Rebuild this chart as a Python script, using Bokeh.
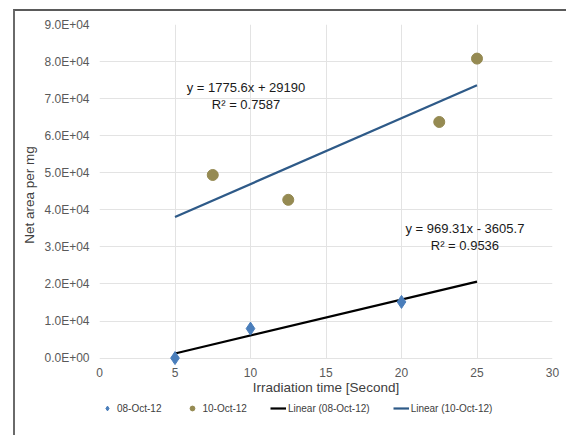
from bokeh.plotting import figure
from bokeh.layouts import column
from bokeh.models import (Range1d, FixedTicker, CustomJSTickFormatter, Legend, LegendItem,
                          Label, BoxAnnotation)
from bokeh.embed import file_html
from bokeh.resources import INLINE

# ---- data ----
x_oct08 = [5, 10, 20]
y_oct08 = [0, 7950, 15160]
x_oct10 = [7.5, 12.5, 22.5, 25]
y_oct10 = [49400, 42700, 63700, 80800]

# trendline coefficients (as shown on chart)
slope_oct08, icpt_oct08, r2_oct08 = 969.31, -3605.7, 0.9536
slope_oct10, icpt_oct10, r2_oct10 = 1775.6, 29190, 0.7587
trend_x = [5, 25]

x_ticks = [0, 5, 10, 15, 20, 25, 30]
y_ticks = [0, 10000, 20000, 30000, 40000, 50000, 60000, 70000, 80000, 90000]

FONT = "Liberation Sans"
C08 = "#4A7EBB"
C10 = "#958A52"
CL10 = "#2E5A88"

# y range extended slightly below 0 so the marker at 0 is not cut
p = figure(width=551, height=386, output_backend="svg", toolbar_location=None,
           x_range=Range1d(0, 30), y_range=Range1d(-2000, 90000),
           min_border_left=84, min_border_right=14, min_border_top=13, min_border_bottom=20)

p.outline_line_color = None
p.background_fill_color = "white"
p.border_fill_color = "white"

for ax in (p.xaxis[0], p.yaxis[0]):
    ax.axis_line_color = None
    ax.major_tick_line_color = None
    ax.minor_tick_line_color = None
    ax.major_tick_out = 0
    ax.major_tick_in = 0
    ax.major_label_text_font = FONT
    ax.major_label_text_font_size = "12px"
    ax.major_label_text_color = "#595959"
    ax.axis_label_text_font = FONT
    ax.axis_label_text_font_size = "13.5px"
    ax.axis_label_text_font_style = "normal"
    ax.axis_label_text_color = "#404040"

p.xaxis.ticker = FixedTicker(ticks=x_ticks)
p.yaxis.ticker = FixedTicker(ticks=y_ticks)
p.yaxis.formatter = CustomJSTickFormatter(code="""
const s = tick.toExponential(1);
const parts = s.split('e');
const sign = parts[1][0];
const d = parts[1].slice(1).padStart(2, '0');
return parts[0] + 'E' + sign + d;
""")
p.xaxis.axis_label = "Irradiation time [Second]"
p.yaxis.axis_label = "Net area per mg"
p.xaxis.major_label_standoff = 2
p.yaxis.major_label_standoff = 10
p.xaxis.axis_label_standoff = 0
p.yaxis.axis_label_standoff = 4

p.xgrid.grid_line_color = "#e3e3e3"
p.ygrid.grid_line_color = "#e3e3e3"

# hide the grid below the zero line
p.add_layout(BoxAnnotation(top=-250, fill_color="white", fill_alpha=1, line_alpha=0,
                           level="underlay"))

# trendlines
l08 = p.line(trend_x, [slope_oct08 * x + icpt_oct08 for x in trend_x], line_color="black", line_width=2.2)
l10 = p.line(trend_x, [slope_oct10 * x + icpt_oct10 for x in trend_x], line_color=CL10, line_width=2.2)

s08 = p.scatter(x_oct08, y_oct08, marker="diamond", size=13, fill_color=C08, line_color=C08)
s10 = p.scatter(x_oct10, y_oct10, marker="circle", size=11, fill_color=C10, line_color=C10)

# equations
for txt, xx, yy in [(f"y = {slope_oct10}x + {icpt_oct10}", 9.7, 73000),
                    (f"R\u00b2 = {r2_oct10}", 9.7, 68400),
                    (f"y = {slope_oct08}x - {abs(icpt_oct08)}", 24.2, 35000),
                    (f"R\u00b2 = {r2_oct08}", 24.2, 30400)]:
    p.add_layout(Label(x=xx, y=yy, text=txt, text_align="center", text_baseline="middle",
                       text_font=FONT, text_font_size="13px", text_color="#1a1a1a"))

# legend strip below (its renderers draw the same series, which fall outside this strip's range)
lf = figure(width=551, height=38, output_backend="svg", toolbar_location=None,
            x_range=Range1d(0, 1), y_range=Range1d(0, 1),
            min_border=0, x_axis_type=None, y_axis_type=None)
lf.outline_line_color = None
lf.grid.visible = False
d08 = lf.scatter(x_oct08, y_oct08, marker="diamond", size=9, fill_color=C08, line_color=C08)
d10 = lf.scatter(x_oct10, y_oct10, marker="circle", size=7, fill_color=C10, line_color=C10)
dl08 = lf.line(trend_x, [slope_oct08 * x + icpt_oct08 for x in trend_x], line_color="black", line_width=2.2)
dl10 = lf.line(trend_x, [slope_oct10 * x + icpt_oct10 for x in trend_x], line_color=CL10, line_width=2.2)

legend = Legend(items=[LegendItem(label="08-Oct-12", renderers=[d08]),
                       LegendItem(label="10-Oct-12", renderers=[d10]),
                       LegendItem(label="Linear (08-Oct-12)", renderers=[dl08]),
                       LegendItem(label="Linear (10-Oct-12)", renderers=[dl10])],
                orientation="horizontal", location=(0, 21))
legend.border_line_color = None
legend.background_fill_alpha = 0
legend.label_text_font = FONT
legend.label_text_font_size = "10px"
legend.label_text_color = "#404040"
legend.glyph_width = 16
legend.glyph_height = 12
legend.spacing = 23
legend.label_standoff = 2
legend.padding = 0
legend.margin = 0
lf.add_layout(legend)

layout = column(p, lf, spacing=0, margin=(9, 0, 0, 13),
                styles={"border-top": "2px solid #5a5a5a", "border-left": "2px solid #6a6a6a"})

open("out.html", "w").write(file_html(layout, INLINE))
